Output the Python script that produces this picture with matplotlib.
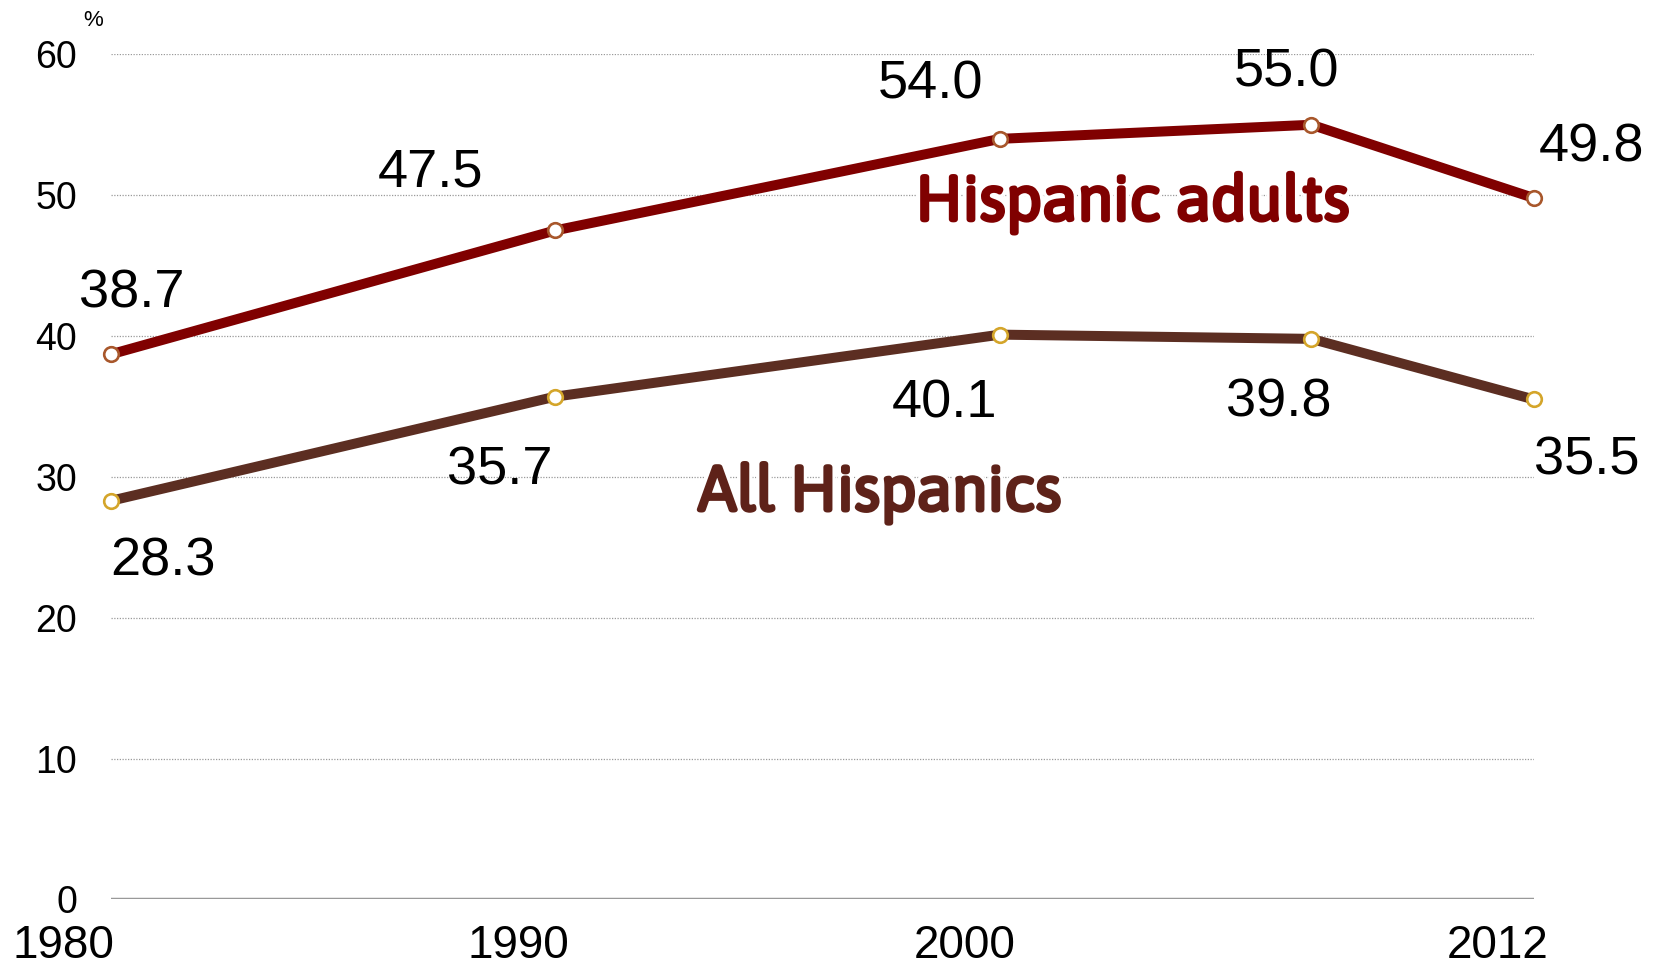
import matplotlib
matplotlib.use("Agg")
import matplotlib.pyplot as plt
import matplotlib.transforms as mtransforms
import matplotlib.patheffects as pe

# ==========================================================
# Data
# ==========================================================
years = [1980, 1990, 2000, 2007, 2012]
adults = [38.7, 47.5, 54.0, 55.0, 49.8]
all_hisp = [28.3, 35.7, 40.1, 39.8, 35.5]

tick_years = [1980, 1990, 2000, 2012]
y_ticks = [0, 10, 20, 30, 40, 50, 60]

# label offsets from each point, in pixels (dx, dy)
adult_offsets = [(21, 61), (-125, 58), (-70, 54), (-25, 52), (58, 51)]
all_offsets = [(52, -61), (-56, -74), (-56, -69), (-33, -64), (53, -61)]
year_label_dx = [-47, -37, -35, -36]

RED = "#800000"
BROWN = "#5C2E22"
BROWN_TXT = "#5E2219"
LABEL_FONT = ["Asap", "DejaVu Sans"]

plt.rcParams["font.family"] = ["Liberation Sans", "DejaVu Sans"]

fig = plt.figure(figsize=(16.69, 9.65), dpi=100)
ax = fig.add_axes([0.0663, 0.0679, 0.919 - 0.0663, 0.9437 - 0.0679])

# grid
for v in y_ticks[1:]:
    ax.axhline(v, color="#9a9a9a", lw=0.9, ls=(0, (1, 1.2)), zorder=1)
ax.axhline(0, color="#999999", lw=2.5, zorder=1)

# lines
ax.plot(years, adults, color=RED, lw=7.2, zorder=3, solid_capstyle="butt",
        marker="o", ms=10.5, mfc="white", mec="#A8572B", mew=1.9, clip_on=False)
ax.plot(years, all_hisp, color=BROWN, lw=7.2, zorder=3, solid_capstyle="butt",
        marker="o", ms=10.5, mfc="white", mec="#D4A52A", mew=1.9, clip_on=False)

# data labels
px = 72.0 / fig.dpi
for x, v, (dx, dy) in zip(years, adults, adult_offsets):
    ax.annotate(f"{v:.1f}", (x, v), xytext=(dx * px, dy * px),
                textcoords="offset points", ha="center", va="center",
                fontsize=39, color="black", zorder=5)
for x, v, (dx, dy) in zip(years, all_hisp, all_offsets):
    ax.annotate(f"{v:.1f}", (x, v), xytext=(dx * px, dy * px),
                textcoords="offset points", ha="center", va="center",
                fontsize=39, color="black", zorder=5)

# series labels
def heavy(col):
    return [pe.withStroke(linewidth=7, foreground="white"),
            pe.withStroke(linewidth=2.4, foreground=col)]

ax.text(1998.1, 48.2, "Hispanic adults", color=RED, fontsize=46,
        fontweight="bold", family=LABEL_FONT,
        ha="left", va="baseline", zorder=4, path_effects=heavy(RED))
ax.text(1993.2, 27.6, "All Hispanics", color=BROWN_TXT, fontsize=46,
        fontweight="bold", family=LABEL_FONT,
        ha="left", va="baseline", zorder=4, path_effects=heavy(BROWN_TXT))

# axes
ax.set_xlim(1980, 2012)
ax.set_ylim(0, 60)
ax.set_yticks(y_ticks)
ax.set_yticklabels([str(v) for v in y_ticks], fontsize=27)
ax.set_xticks(tick_years)
ax.set_xticklabels([str(y) for y in tick_years], fontsize=33)
ax.tick_params(axis="y", length=0, pad=24)
ax.tick_params(axis="x", length=0, pad=18)
for lab, dx in zip(ax.get_xticklabels(), year_label_dx):
    lab.set_transform(lab.get_transform() +
                      mtransforms.ScaledTranslation(dx / fig.dpi, 0, fig.dpi_scale_trans))
for s in ax.spines.values():
    s.set_visible(False)

fig.text(93 / 1669, 1 - 21 / 965, "%", fontsize=16, ha="center", va="center")

fig.savefig("out.png", dpi=100)
